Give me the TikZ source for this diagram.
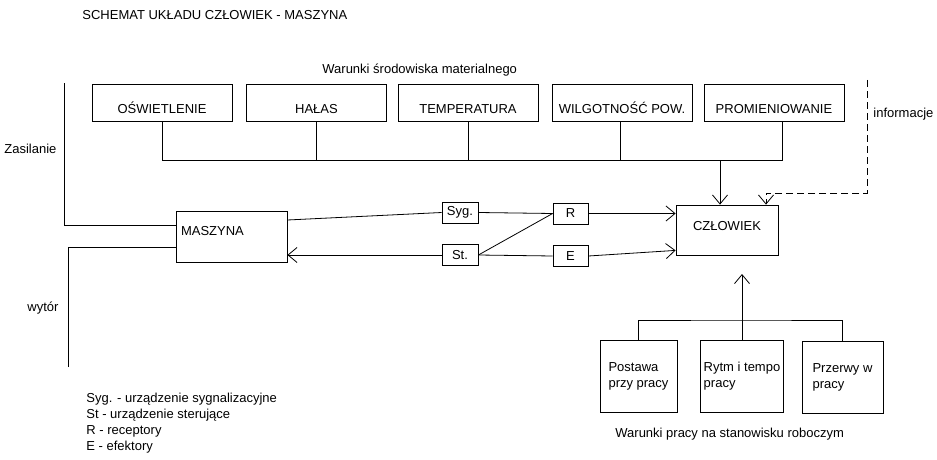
\documentclass[tikz,border=0pt]{standalone}
\usepackage{fontspec}
\setmainfont{Liberation Sans}
\usetikzlibrary{arrows.meta}

\begin{document}
\begin{tikzpicture}[x=1pt, y=-1pt, line width=0.8pt,
  font=\fontsize{13}{16}\selectfont,
  >={Straight Barb[length=9pt,width=15pt]},
  factor/.style={draw, minimum width=140pt, minimum height=37pt, text height=24pt, text depth=3pt},
  small/.style={draw, minimum width=36pt, minimum height=21pt, inner sep=1pt},
  work/.style={draw, align=left, minimum height=72pt},
  txt/.style={inner sep=0pt, anchor=base west}]
\useasboundingbox (0,0) rectangle (937,460);

% Titles and free labels
\node[txt] (title) at (82,20) {SCHEMAT UKŁADU CZŁOWIEK - MASZYNA};
\node[txt] (envlbl) at (322,74) {Warunki środowiska materialnego};
\node[txt] (infolbl) at (873,117) {informacje};
\node[txt] (zaslbl) at (4,153.5) {Zasilanie};
\node[txt] (wytlbl) at (27,311.5) {wytór};
\node[txt] (worklbl) at (615,437.5) {Warunki pracy na stanowisku roboczym};
\node[inner sep=0pt, anchor=north west, align=left] (legend) at (86,392.5)
  {Syg. - urządzenie sygnalizacyjne\\St - urządzenie sterujące\\R - receptory\\E - efektory};

% Level 1: Environment factors
\node[factor] (osw) at (162,103) {OŚWIETLENIE};
\node[factor] (hal) at (316.5,103) {HAŁAS};
\node[factor] (temp) at (468,103) {TEMPERATURA};
\node[factor] (wilg) at (622,103) {WILGOTNOŚĆ POW.};
\node[factor] (prom) at (774,103) {PROMIENIOWANIE};

% Level 2: Man and machine
\node[draw, minimum width=102pt, minimum height=50pt, text height=9pt, text depth=9pt] (czl) at (727,230) {CZŁOWIEK};
\node[draw, minimum width=111pt, minimum height=51pt, text width=101pt, inner xsep=5pt, align=left,
  text height=9pt, text depth=11.5pt] (mas) at (231.5,236.5) {MASZYNA};

% Devices between them
\node[small] (syg) at (460,212.5) {Syg.};
\node[small] (st) at (460,255) {St.};
\node[small, minimum width=35pt] (r) at (570.5,213.5) {R};
\node[small, minimum width=35pt] (e) at (570.5,256) {E};

% Level 3: Work conditions
\node[work, minimum width=77pt] (post) at (638.5,376) {Postawa\\przy pracy};
\node[work, minimum width=80pt] (rytm) at (742,376.5) {Rytm i tempo\\pracy};
\node[work, minimum width=81pt] (prz) at (842.5,377) {Przerwy w\\pracy};

% Free ends
\coordinate (bus) at (720,160);
\coordinate (info) at (867,80);
\coordinate (infoc) at (766,193);
\coordinate (zas) at (64,83);
\coordinate (wyt) at (68,367);
\coordinate (wbus) at (742,320);
\coordinate (up) at (742,274);

% Environment bus
\draw (osw.south) |- ([xshift=8pt]prom.south |- bus) -- ([xshift=8pt]prom.south);
\draw (hal.south) -- (hal.south |- bus);
\draw (temp.south) -- (temp.south |- bus);
\draw ([xshift=-2pt]wilg.south) -- ([xshift=-2pt]wilg.south |- bus);
\draw[->] (bus) -- (bus |- czl.north);
\draw[->, dash pattern=on 7pt off 4pt] (info) |- (infoc) -- (infoc |- czl.north);

% Machine side
\draw (zas) |- ([yshift=11.5pt]mas.west);
\draw (wyt) |- ([yshift=-10.5pt]mas.west);
\draw ([yshift=16.5pt]mas.east) -- (syg.west);
\draw[->] (st.west) -- (st.west -| mas.east);

% Devices to man
\draw (syg.east) -- (r.west);
\draw (st.east) -- (e.west);
\draw (st.east) -- (r.west);
\draw[->] (r.east) -- (r.east -| czl.west);
\draw[->] (e.east) -- ([yshift=5pt]czl.south west);

% Work conditions to man
\draw (post.north) |- (wbus) -| (prz.north);
\draw[->] (rytm.north) -- (up);
\end{tikzpicture}
\end{document}
